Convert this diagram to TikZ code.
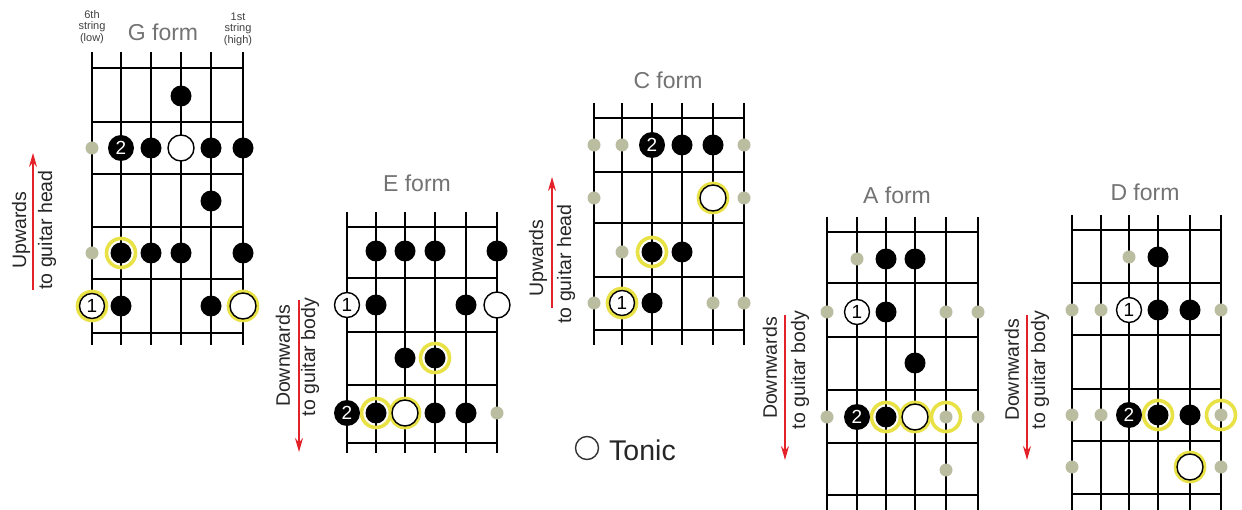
\documentclass[tikz,border=0pt]{standalone}
\usepackage{fontspec}
\setmainfont{Liberation Sans}
\usetikzlibrary{arrows.meta}
\definecolor{dotgrey}{RGB}{186,189,160}
\definecolor{ringyel}{RGB}{232,226,70}
\definecolor{titlegrey}{RGB}{115,115,115}
\definecolor{arrred}{RGB}{228,32,40}
\newcommand\fdot[4]{\node[#1] (#2) at (#3) {#4};}
\newcommand\fring[2]{\node[ring] (#1) at (#2) {};}
\tikzset{
  gridline/.style={line width=1.2pt, black},
  blk/.style={circle, fill=black, minimum size=21pt, inner sep=0pt},
  two/.style={circle, fill=black, text=white, minimum size=26pt, inner sep=0pt, font=\fontsize{19}{19}\selectfont},
  one/.style={circle, draw=black, line width=1.4pt, fill=white, minimum size=25pt, inner sep=0pt, font=\fontsize{19}{19}\selectfont},
  ton/.style={circle, draw=black, line width=1.4pt, fill=white, minimum size=26pt, inner sep=0pt},
  gry/.style={circle, fill=dotgrey, minimum size=13pt, inner sep=0pt},
  ring/.style={circle, draw=ringyel, line width=3.6pt, minimum size=29pt, inner sep=0pt},
  formtitle/.style={text=titlegrey, font=\fontsize{23}{23}\selectfont, inner sep=0pt},
  small/.style={text=black!75, font=\fontsize{11}{11.5}\selectfont, align=center, inner sep=0pt},
  dirtext/.style={rotate=90, text=black!85, font=\fontsize{19.5}{19.5}\selectfont, inner sep=0pt},
  dirarrow/.style={arrred, line width=1.4pt, -{Stealth[length=14pt,width=8pt]}},
}
\begin{document}
\begin{tikzpicture}[x=1pt,y=-1pt]
\useasboundingbox[fill=white] (0,0) rectangle (1242,510);

% ---------------- G form ----------------
\foreach \x in {92,121,151,181,211,243} \draw[gridline] (\x,52) -- (\x,345);
\foreach \y in {68,122,174,227,279,333} \draw[gridline] (92,\y) -- (243,\y);
\node[formtitle] (gT) at (163,32) {G form};
\node[small] (gL) at (92,27) {6th\\string\\(low)};
\node[small] (gH) at (238,29) {1st\\string\\(high)};
\fdot{blk}{g1}{181,96}{}
\fdot{gry}{g2}{92,148}{}
\fdot{two}{g3}{121,148}{2}
\fdot{blk}{g4}{151,148}{}
\fdot{ton}{g5}{181,148}{}
\fdot{blk}{g6}{211,148}{}
\fdot{blk}{g7}{243,148}{}
\fdot{blk}{g8}{211,201}{}
\fdot{gry}{g9}{92,253}{}
\fring{gr1}{121,253}
\fdot{blk}{g10}{121,253}{}
\fdot{blk}{g11}{151,253}{}
\fdot{blk}{g12}{181,253}{}
\fdot{blk}{g13}{243,253}{}
\fring{gr2}{92,306}
\fdot{one}{g14}{92,306}{1}
\fdot{blk}{g15}{121,306}{}
\fdot{blk}{g16}{211,306}{}
\fring{gr3}{243,306}
\fdot{ton}{g17}{243,306}{}
\node[dirtext] (gU) at (21,230) {Upwards};
\node[dirtext] (gV) at (47,230) {to guitar head};
\coordinate (gA1) at (33,290);
\coordinate (gA2) at (33,153);
\draw[dirarrow] (gA1) -- (gA2);

% ---------------- E form ----------------
\foreach \x in {347,376,405,435,466,497} \draw[gridline] (\x,212) -- (\x,453);
\foreach \y in {227,278,332,385,443} \draw[gridline] (347,\y) -- (497,\y);
\node[formtitle] (eT) at (417,183) {E form};
\fdot{blk}{e1}{376,251}{}
\fdot{blk}{e2}{405,251}{}
\fdot{blk}{e3}{435,251}{}
\fdot{blk}{e4}{497,251}{}
\fdot{one}{e5}{347,305}{1}
\fdot{blk}{e6}{376,305}{}
\fdot{blk}{e7}{466,305}{}
\fdot{ton}{e8}{497,305}{}
\fdot{blk}{e9}{405,358}{}
\fring{er1}{435,358}
\fdot{blk}{e10}{435,358}{}
\fring{er2}{376,413}
\fring{er3}{405,413}
\fdot{two}{e11}{347,413}{2}
\fdot{blk}{e12}{376,413}{}
\fdot{ton}{e13}{405,413}{}
\fdot{blk}{e14}{435,413}{}
\fdot{blk}{e15}{466,413}{}
\fdot{gry}{e16}{497,413}{}
\node[dirtext] (eU) at (283,356) {Downwards};
\node[dirtext] (eV) at (310,357) {to guitar body};
\coordinate (eA1) at (299,300);
\coordinate (eA2) at (299,452);
\draw[dirarrow] (eA1) -- (eA2);

% ---------------- C form ----------------
\foreach \x in {594,622,652,682,713,744} \draw[gridline] (\x,103) -- (\x,345);
\foreach \y in {118,172,223,277,330} \draw[gridline] (594,\y) -- (744,\y);
\node[formtitle] (cT) at (668,80) {C form};
\fdot{gry}{c1}{594,145}{}
\fdot{gry}{c2}{622,145}{}
\fdot{two}{c3}{652,145}{2}
\fdot{blk}{c4}{682,145}{}
\fdot{blk}{c5}{713,145}{}
\fdot{gry}{c6}{744,145}{}
\fdot{gry}{c7}{594,198}{}
\fring{cr1}{713,198}
\fdot{ton}{c8}{713,198}{}
\fdot{gry}{c9}{744,198}{}
\fdot{gry}{c10}{622,252}{}
\fring{cr2}{652,252}
\fdot{blk}{c11}{652,252}{}
\fdot{blk}{c12}{682,252}{}
\fdot{gry}{c13}{594,303}{}
\fring{cr3}{622,303}
\fdot{one}{c14}{622,303}{1}
\fdot{blk}{c15}{652,303}{}
\fdot{gry}{c16}{713,303}{}
\fdot{gry}{c17}{744,303}{}
\node[dirtext] (cU) at (538,258) {Upwards};
\node[dirtext] (cV) at (566,264) {to guitar head};
\coordinate (cA1) at (552,308);
\coordinate (cA2) at (552,177);
\draw[dirarrow] (cA1) -- (cA2);

% ---------------- A form ----------------
\foreach \x in {827,857,886,915,946,978} \draw[gridline] (\x,217) -- (\x,512);
\foreach \y in {232,283,337,390,443,495} \draw[gridline] (827,\y) -- (978,\y);
\node[formtitle] (aT) at (897,195) {A form};
\fdot{gry}{a1}{857,259}{}
\fdot{blk}{a2}{886,259}{}
\fdot{blk}{a3}{915,259}{}
\fdot{gry}{a4}{827,312}{}
\fdot{one}{a5}{857,312}{1}
\fdot{blk}{a6}{886,312}{}
\fdot{gry}{a7}{946,312}{}
\fdot{gry}{a8}{978,312}{}
\fdot{blk}{a9}{915,363}{}
\fring{ar1}{886,417}
\fring{ar2}{915,417}
\fring{ar3}{946,417}
\fdot{gry}{a10}{827,417}{}
\fdot{two}{a11}{857,417}{2}
\fdot{blk}{a12}{886,417}{}
\fdot{ton}{a13}{915,417}{}
\fdot{gry}{a14}{946,417}{}
\fdot{gry}{a15}{978,417}{}
\fdot{gry}{a16}{946,470}{}
\node[dirtext] (aU) at (770,368) {Downwards};
\node[dirtext] (aV) at (800,370) {to guitar body};
\coordinate (aA1) at (785,315);
\coordinate (aA2) at (785,460);
\draw[dirarrow] (aA1) -- (aA2);

% ---------------- D form ----------------
\foreach \x in {1072,1101,1129,1158,1190,1221} \draw[gridline] (\x,215) -- (\x,512);
\foreach \y in {230,283,335,389,441,494} \draw[gridline] (1072,\y) -- (1221,\y);
\node[formtitle] (dT) at (1145,192) {D form};
\fdot{gry}{d1}{1129,257}{}
\fdot{blk}{d2}{1158,257}{}
\fdot{gry}{d3}{1072,310}{}
\fdot{gry}{d4}{1101,310}{}
\fdot{one}{d5}{1129,310}{1}
\fdot{blk}{d6}{1158,310}{}
\fdot{blk}{d7}{1190,310}{}
\fdot{gry}{d8}{1221,310}{}
\fring{dr1}{1158,415}
\fring{dr2}{1221,415}
\fdot{gry}{d9}{1072,415}{}
\fdot{gry}{d10}{1101,415}{}
\fdot{two}{d11}{1129,415}{2}
\fdot{blk}{d12}{1158,415}{}
\fdot{blk}{d13}{1190,415}{}
\fdot{gry}{d14}{1221,415}{}
\fdot{gry}{d15}{1072,467}{}
\fring{dr3}{1190,467}
\fdot{ton}{d16}{1190,467}{}
\fdot{gry}{d17}{1221,467}{}
\node[dirtext] (dU) at (1012,370) {Downwards};
\node[dirtext] (dV) at (1040,370) {to guitar body};
\coordinate (dA1) at (1027,315);
\coordinate (dA2) at (1027,460);
\draw[dirarrow] (dA1) -- (dA2);

% ---------------- legend ----------------
\node[circle, draw=black!80, line width=1.4pt, minimum size=23pt, inner sep=0pt] (legC) at (587,448) {};
\node[anchor=west, inner sep=0pt, font=\fontsize{28.5}{28.5}\selectfont, text=black!85] (legT) at (609,450) {Tonic};
\end{tikzpicture}
\end{document}
